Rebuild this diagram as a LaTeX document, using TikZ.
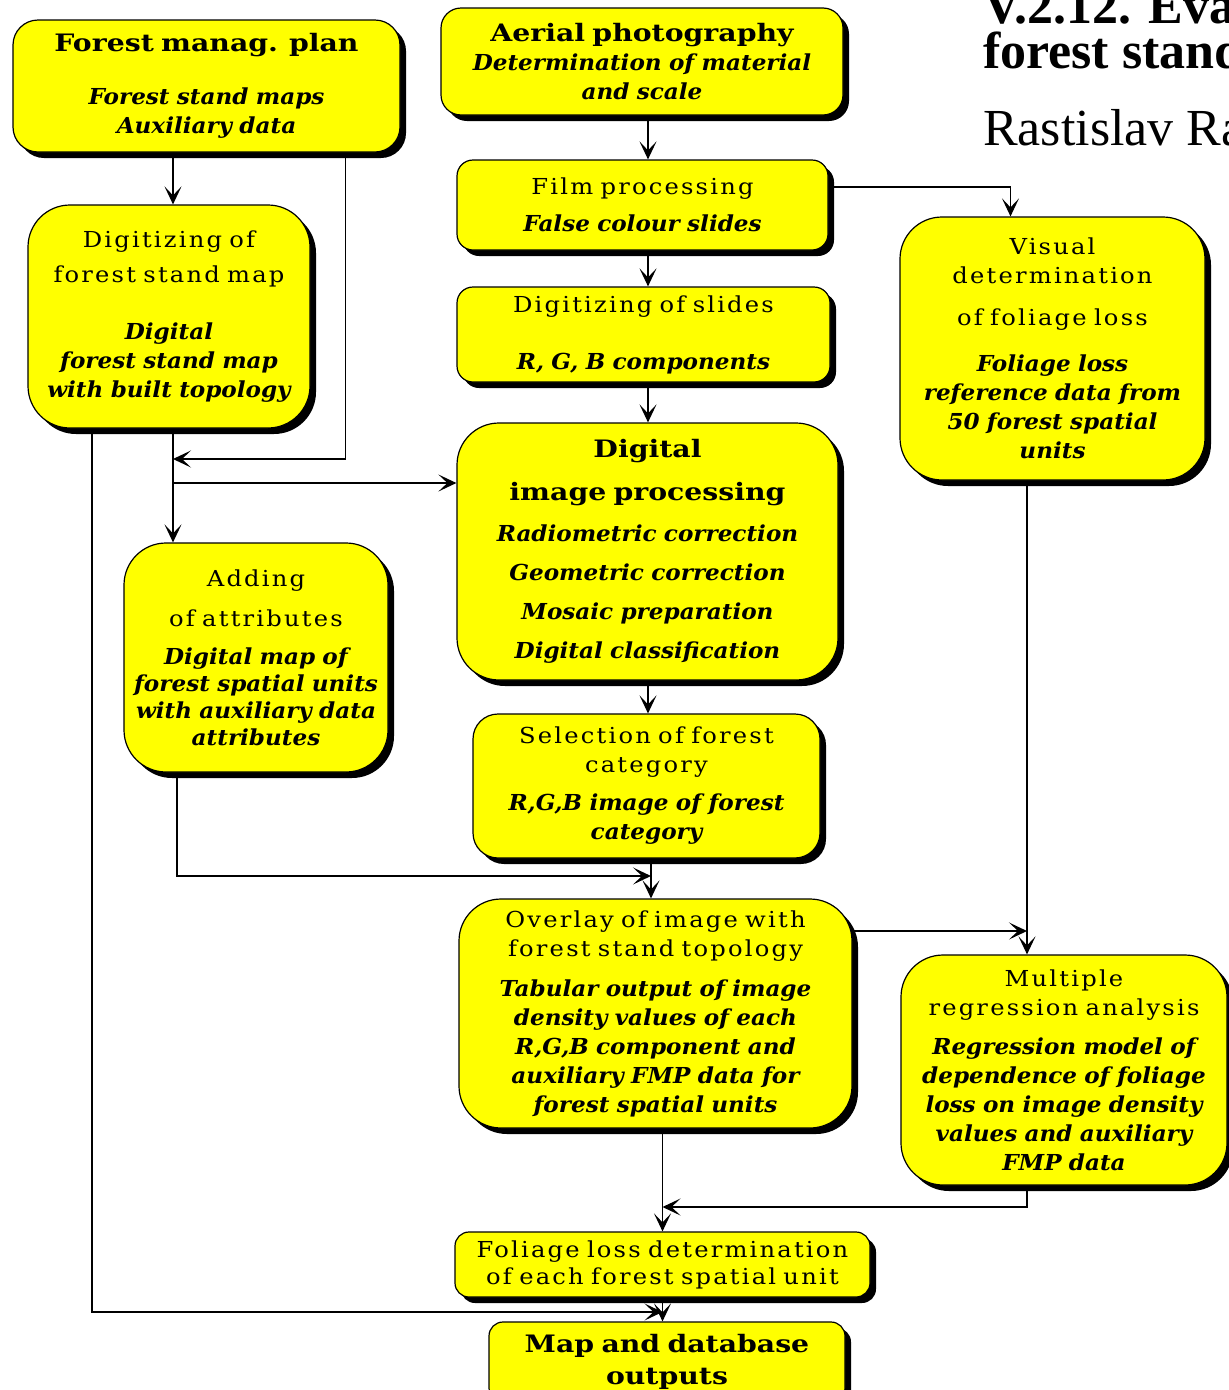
\documentclass[tikz,border=0pt]{standalone}
\usepackage{fontspec}
\setmainfont{DejaVu Serif}[FakeStretch=1.1, LetterSpace=10]
\newfontfamily\itfam{DejaVu Serif}[FakeStretch=1.05]
\newfontfamily\hdfam{DejaVu Serif}[FakeStretch=1.18]
\newfontfamily\titlefont{Liberation Serif}
\usetikzlibrary{arrows.meta,shadows}

\definecolor{boxyellow}{RGB}{255,255,0}
\newcommand{\ib}[1]{{\itfam\bfseries\itshape #1}}
\newcommand{\hd}[1]{{\hdfam\fontsize{24}{29}\selectfont\bfseries #1}}

\tikzset{
  box/.style={draw=black, line width=1.2pt, fill=boxyellow, rounded corners=20pt,
    align=center, inner sep=0pt, font=\fontsize{22}{29}\selectfont,
    drop shadow={shadow xshift=6pt, shadow yshift=-6pt, fill=black, opacity=1}},
  bigbox/.style={box, rounded corners=42pt},
  conn/.style={line width=1.3pt},
  arr/.style={conn, -{Stealth[length=18pt,width=17pt,inset=9pt]}},
  ttl/.style={anchor=base west, inner sep=0pt, font=\titlefont\fontsize{52}{45}\selectfont},
}

\begin{document}
\begin{tikzpicture}[x=1pt,y=-1pt]
    \useasboundingbox (0,0) rectangle (1229,1390);
    \clip (0,0) rectangle (1229,1390);

    % title
    \node[ttl] (t1) at (983,23) {\bfseries V.2.12. Eva};
    \node[ttl] (t2) at (983,68) {\bfseries forest stand};
    \node[ttl] (t3) at (983,145) {Rastislav Ra};

    % left column
    \node[box, rounded corners=25pt, text width=387pt, minimum height=132pt] (fmp) at (206.5,86)
        {\hd{Forest manag. plan}\\[24pt] \ib{Forest stand maps}\\ \ib{Auxiliary data}};
    \node[bigbox, text width=282pt, minimum height=223pt] (dig) at (169,316.5)
        {Digitizing of\\[6pt] forest stand map\\[28pt] \ib{Digital}\\ \ib{forest stand map}\\ \ib{with built topology}};
    \node[bigbox, text width=264pt, minimum height=229pt] (add) at (256,657.5)
        {Adding\\[11pt] of attributes\\[9pt] \ib{Digital map of}\\[-2pt] \ib{forest spatial units}\\[-2pt] \ib{with auxiliary data}\\[-2pt] \ib{attributes}};

    % middle column
    \node[box, text width=402pt, minimum height=107pt] (aer) at (642,61.5)
        {\hd{Aerial photography}\\ \ib{Determination of material}\\ \ib{and scale}};
    \node[box, rounded corners=16pt, text width=371pt, minimum height=90pt] (film) at (642.5,205)
        {Film processing\\[8pt] \ib{False colour slides}};
    \node[box, rounded corners=16pt, text width=373pt, minimum height=95pt] (sld) at (643.5,334.5)
        {Digitizing of slides\\[28pt] \ib{R, G, B components}};
    \node[bigbox, text width=381pt, minimum height=257pt] (dip) at (647.5,551.5)
        {\hd{Digital}\\[14pt] \hd{image processing}\\[12pt] \ib{Radiometric correction}\\[10pt]
         \ib{Geometric correction}\\[10pt] \ib{Mosaic preparation}\\[10pt] \ib{Digital classification}};
    \node[box, rounded corners=25pt, text width=347pt, minimum height=144pt] (sel) at (646.5,786)
        {Selection of forest\\ category\\[9pt] \ib{R,G,B image of forest}\\ \ib{category}};
    \node[bigbox, text width=393pt, minimum height=229pt] (ovl) at (655.5,1013.5)
        {Overlay of image with\\ forest stand topology\\[11pt] \ib{Tabular output of image}\\
         \ib{density values of each}\\ \ib{R,G,B component and}\\ \ib{auxiliary FMP data for}\\ \ib{forest spatial units}};
    \node[box, rounded corners=14pt, text width=415pt, minimum height=65pt] (fld) at (662.5,1264.5)
        {Foliage loss determination\\[-2pt] of each forest spatial unit};
    \node[box, rounded corners=14pt, text width=356pt, minimum height=80pt] (map) at (667,1362)
        {\hd{Map and database}\\[3pt] \hd{outputs}};

    % right column
    \node[bigbox, text width=305pt, minimum height=263pt] (vis) at (1052.5,348.5)
        {Visual\\ determination\\[13pt] of foliage loss\\[17pt] \ib{Foliage loss}\\
         \ib{reference data from}\\ \ib{50 forest spatial}\\ \ib{units}};
    \node[bigbox, text width=326pt, minimum height=230pt] (mra) at (1064,1070)
        {Multiple\\ regression analysis\\[10pt] \ib{Regression model of}\\ \ib{dependence of foliage}\\
         \ib{loss on image density}\\ \ib{values and auxiliary}\\ \ib{FMP data}};

    % junctions
    \coordinate (cx) at (648,0);
    \coordinate (cy) at (651,0);
    \coordinate (j1) at (173,459);
    \coordinate (j2) at (173,483);
    \coordinate (j3) at (92,1312);
    \coordinate (j4) at (177,876);
    \coordinate (j5) at (1027,931);
    \coordinate (j6) at (1027,1207);

    \draw[arr] (fmp.south -| j1) -- (dig.north -| j1);
    \draw[arr] ([xshift=139pt]fmp.south) |- (j1);
    \draw[arr] (dig.south -| j1) -- (add.north -| j1);
    \draw[arr] (j2) -- (j2 -| dip.west);
    \draw[arr] (dig.south -| j3) -- (j3) -- (j3 -| fld.south);

    \draw[arr] (aer.south -| cx) -- (film.north -| cx);
    \draw[arr] (film.south -| cx) -- (sld.north -| cx);
    \draw[arr] (sld.south -| cx) -- (dip.north -| cx);
    \draw[arr] (dip.south -| cx) -- (sel.north -| cx);
    \draw[arr] ([yshift=18pt]film.east) -| ([xshift=-42pt]vis.north);

    \draw[arr] (add.south -| j4) -- (j4) -- (j4 -| cy);
    \draw[arr] (sel.south -| cy) -- (ovl.north -| cy);
    \draw[arr] (ovl.east |- j5) -- (j5);
    \draw[arr] (vis.south -| j5) -- (mra.north -| j5);

    \draw[arr] (ovl.south -| fld.north) -- (fld.north);
    \draw[arr] (mra.south -| j6) -- (j6) -- (j6 -| fld.north);
    \draw[arr] (fld.south) -- (fld.south |- map.north);
\end{tikzpicture}
\end{document}
